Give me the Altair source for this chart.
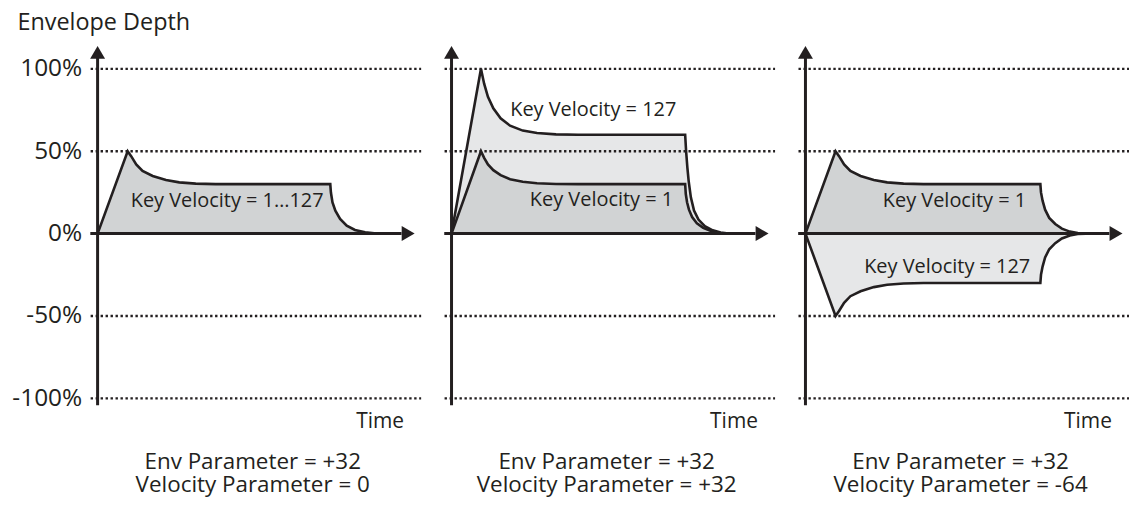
import altair as alt
import pandas as pd

# ---------------- style ----------------
INK = "#231f20"
FILL_LOW = "#d1d3d4"     # Key Velocity = 1
FILL_HIGH = "#e6e7e8"    # Key Velocity = 127
FONT = "Open Sans"

# ---------------- layout (time units / percent) ----------------
PANEL_STEP = 111.8          # distance between the three panel origins (time units)
X_DOMAIN = [-2.2, 325.8]
Y_DOMAIN = [-100, 100]
GRID_START, GRID_END = -2.2, 102.2
GRID_LEVELS = [100, 50, -50, -100]
Y_TICKS = [-100, -50, 0, 50, 100]
PANELS = [0, 1, 2]

# ---------------- envelope data ----------------
# Panel 1: Key Velocity = 1...127
P1_T = [0, 9.5, 10.6, 12.2, 14.2, 17.4, 21.6, 25.8, 31, 37.3, 73.5,
        73.7, 74.2, 75.1, 76.6, 78.7, 81.3, 84.5, 88.1]
P1_V = [0, 50, 47, 42, 38, 35, 32.5, 31.1, 30.3, 30, 30,
        24.9, 18.9, 13.9, 8.9, 4.8, 2.2, 0.8, 0]

# Panel 2: Key Velocity = 127 (high) and = 1 (low)
P2_HI_T = [0, 9.3, 10.3, 11.5, 13.2, 15.5, 18.5, 22.5, 27, 33, 40, 73.8,
           74.1, 74.5, 74.9, 75.6, 76.6, 78, 80, 82.5, 85, 87.5]
P2_HI_V = [0, 100, 91, 83, 76, 70, 65.5, 62.5, 61, 60.2, 60, 60,
           50, 40, 32, 22, 14, 8.5, 4.5, 2, 0.6, 0]
P2_LO_T = [0, 9.3, 10.3, 11.5, 13.2, 15.5, 18.5, 22.5, 27, 33, 40, 73.8,
           74, 74.4, 75, 76, 77.5, 79.5, 82, 84.5, 86]
P2_LO_V = [0, 50, 46, 42, 38.5, 35.5, 33, 31.5, 30.6, 30.1, 30, 30,
           24, 19, 14.5, 10, 6.2, 3.5, 1.5, 0.4, 0]

# Panel 3: Key Velocity = 1 (positive) and = 127 (negative)
P3_POS_T = [0, 9.5, 10.6, 12.2, 14.2, 17.4, 21.6, 25.8, 31, 37.3, 74.2,
            74.4, 74.9, 75.7, 77, 78.9, 81, 83.5, 86, 88.5]
P3_POS_V = [0, 50, 47, 42, 38, 35, 32.5, 31.1, 30.3, 30, 30,
            25, 20, 14.5, 9.5, 5.8, 3, 1.2, 0.3, 0]
P3_NEG_T = [0, 9.5, 10.6, 12.2, 14.2, 17.4, 21.6, 25.8, 31, 37.3, 74.2,
            74.4, 74.9, 75.7, 77, 78.9, 81, 83.5, 86, 88.5]
P3_NEG_V = [0, -50, -47, -42, -38, -35, -32.5, -31.1, -30.3, -30, -30,
            -25, -20, -14.5, -9.5, -5.8, -3, -1.2, -0.3, 0]

# ---------------- text ----------------
KEY_LABEL_TEXT = ["Key Velocity = 1…127", "Key Velocity = 127", "Key Velocity = 1",
                  "Key Velocity = 1", "Key Velocity = 127"]
KEY_LABEL_PANEL = [0, 1, 1, 2, 2]
KEY_LABEL_T = [71.4, 71, 70, 69.7, 71]
KEY_LABEL_PCT = [16, 71.5, 16.5, 16.3, -23.9]

TIME_TEXT = "Time"
TIME_T = 96.8
TIME_PCT = -117.7

CAPTION_LINE1 = ["Env Parameter = +32", "Env Parameter = +32", "Env Parameter = +32"]
CAPTION_LINE2 = ["Velocity Parameter = 0", "Velocity Parameter = +32", "Velocity Parameter = -64"]
CAPTION_T = 49
CAPTION_PCT = -142.6

# axis arrows (time units / percent)
YAXIS_BOTTOM, YAXIS_TOP, YARROW_CENTER = -104.2, 110, 110
XAXIS_START, XAXIS_END, XARROW_CENTER = -2.3, 96, 98.1


def env_rows(panel, series, ts, vs):
    return [dict(panel=panel, series=series, order=i, gx=panel * PANEL_STEP + t, pct=v)
            for i, (t, v) in enumerate(zip(ts, vs))]


high = pd.DataFrame(env_rows(1, "127", P2_HI_T, P2_HI_V) + env_rows(2, "127", P3_NEG_T, P3_NEG_V))
low = pd.DataFrame(env_rows(0, "1", P1_T, P1_V) + env_rows(1, "1", P2_LO_T, P2_LO_V)
                   + env_rows(2, "1", P3_POS_T, P3_POS_V))

grid = pd.DataFrame([dict(gx=p * PANEL_STEP + GRID_START, gx2=p * PANEL_STEP + GRID_END, pct=lv)
                     for p in PANELS for lv in GRID_LEVELS])
yaxis = pd.DataFrame([dict(gx=p * PANEL_STEP, pct=YAXIS_BOTTOM, pct2=YAXIS_TOP) for p in PANELS])
xaxis = pd.DataFrame([dict(gx=p * PANEL_STEP + XAXIS_START, gx2=p * PANEL_STEP + XAXIS_END, pct=0)
                      for p in PANELS])
yarrow = pd.DataFrame([dict(gx=p * PANEL_STEP, pct=YARROW_CENTER) for p in PANELS])
xarrow = pd.DataFrame([dict(gx=p * PANEL_STEP + XARROW_CENTER, pct=0) for p in PANELS])
keylab = pd.DataFrame([dict(gx=p * PANEL_STEP + t, pct=v, text=s)
                       for p, t, v, s in zip(KEY_LABEL_PANEL, KEY_LABEL_T, KEY_LABEL_PCT, KEY_LABEL_TEXT)])
timelab = pd.DataFrame([dict(gx=p * PANEL_STEP + TIME_T, pct=TIME_PCT, text=TIME_TEXT) for p in PANELS])
caption = pd.DataFrame([dict(gx=p * PANEL_STEP + CAPTION_T, pct=CAPTION_PCT,
                             text=CAPTION_LINE1[p] + "\n" + CAPTION_LINE2[p]) for p in PANELS])

XS = alt.Scale(domain=X_DOMAIN, nice=False, zero=False)
YS = alt.Scale(domain=Y_DOMAIN, nice=False, zero=False)
YAXIS = alt.Axis(values=Y_TICKS, labelExpr="datum.value + '%'", domain=False, ticks=False,
                 grid=False, labelPadding=9, labelFont=FONT, labelFontSize=24.5, labelColor=INK,
                 title="Envelope Depth", titleAngle=0, titleAlign="left", titleBaseline="alphabetic",
                 titleX=-74, titleY=-39, titleFont=FONT, titleFontSize=23.5, titleFontWeight="normal",
                 titleColor=INK)


def X(f="gx"):
    return alt.X(f, type="quantitative", scale=XS, axis=None)


def Y(f="pct"):
    return alt.Y(f, type="quantitative", scale=YS, axis=YAXIS)


def area(df, fill):
    return alt.Chart(df).mark_area(color=fill, interpolate="linear", opacity=1).encode(
        x=X(), y=Y(), y2=alt.datum(0), detail="panel:N")


def outline(df):
    return alt.Chart(df).mark_line(color=INK, strokeWidth=2.6, interpolate="linear",
                                   strokeJoin="miter").encode(
        x=X(), y=Y(), order="order:Q", detail="panel:N")


grid_layer = alt.Chart(grid).mark_rule(color=INK, strokeWidth=2.4, strokeDash=[2.4, 2.6]).encode(
    x=X(), x2=alt.X2("gx2"), y=Y())
yaxis_layer = alt.Chart(yaxis).mark_rule(color=INK, strokeWidth=3).encode(
    x=X(), y=Y(), y2=alt.Y2("pct2"))
xaxis_layer = alt.Chart(xaxis).mark_rule(color=INK, strokeWidth=3).encode(
    x=X(), x2=alt.X2("gx2"), y=Y())
yarrow_layer = alt.Chart(yarrow).mark_point(shape="triangle-up", filled=True, size=225, color=INK,
                                            opacity=1).encode(x=X(), y=Y())
xarrow_layer = alt.Chart(xarrow).mark_point(shape="triangle-right", filled=True, size=225, color=INK,
                                            opacity=1).encode(x=X(), y=Y())
key_layer = alt.Chart(keylab).mark_text(align="right", baseline="alphabetic", font=FONT, fontSize=20,
                                        color=INK).encode(x=X(), y=Y(), text="text:N")
time_layer = alt.Chart(timelab).mark_text(align="right", baseline="alphabetic", font=FONT, fontSize=21,
                                          color=INK).encode(x=X(), y=Y(), text="text:N")
caption_layer = alt.Chart(caption).mark_text(align="center", baseline="alphabetic", font=FONT,
                                             fontSize=22.5, lineBreak="\n", lineHeight=23.5,
                                             color=INK).encode(x=X(), y=Y(), text="text:N")

chart = alt.layer(
    area(high, FILL_HIGH),
    grid_layer,
    outline(high),
    area(low, FILL_LOW),
    outline(low),
    yaxis_layer, xaxis_layer, yarrow_layer, xarrow_layer,
    key_layer, time_layer, caption_layer,
).properties(
    width=1043, height=331, autosize="none",
    padding={"left": 83, "top": 60, "right": 0, "bottom": 99},
).configure_view(stroke=None)

chart.save("out.html", embed_options={"renderer": "svg", "actions": False})
